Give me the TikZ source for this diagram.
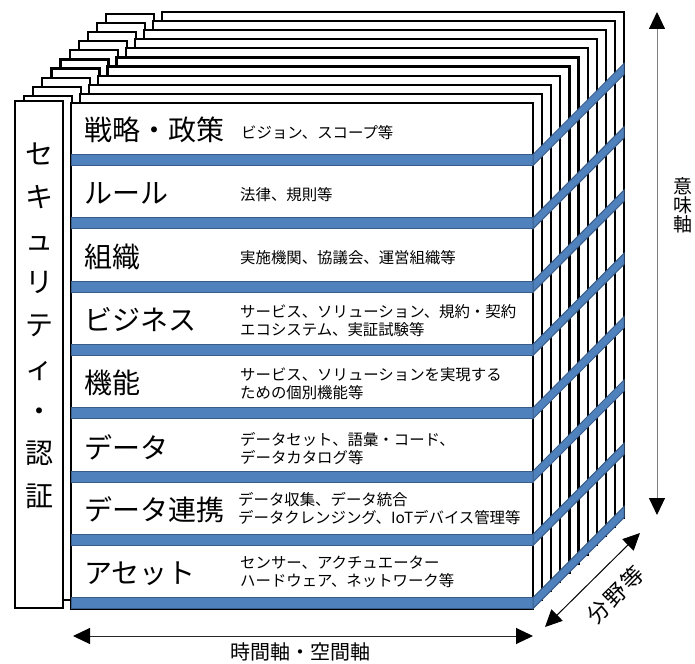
\documentclass[tikz,border=0pt]{standalone}
\usepackage{fontspec}
\setmainfont{Noto Sans CJK JP}
\usetikzlibrary{arrows.meta}
\definecolor{bandfill}{HTML}{4F81BD}
\definecolor{bandline}{HTML}{385D8A}
\definecolor{axisgray}{HTML}{7F7F7F}
\tikzset{
  frame/.style={draw=black, fill=white, line width=2.2pt},
  band/.style={fill=bandfill, draw=bandline, line width=1pt, line join=miter},
  bigl/.style={anchor=west, inner sep=0pt, font=\fontsize{28}{30}\selectfont},
  smalll/.style={anchor=west, inner sep=0pt, align=left, font=\fontsize{15.4}{18}\selectfont},
  axisarrow/.style={{Triangle[length=17pt,width=16pt,color=black]}-{Triangle[length=17pt,width=16pt,color=black]}, line width=1pt},
}
\begin{document}
\begin{tikzpicture}[x=1pt,y=-1pt]
\useasboundingbox (0,0) rectangle (695,663);
% back layers
\foreach \k in {10,9,...,1} {
  \begin{scope}[shift={(9.1*\k,-9.1*\k)}]
    \draw[frame] (15,105) rectangle (63,609);
    \draw[frame] (71,103) rectangle (533,609);
  \end{scope}
}
% front security box and main box
\draw[frame] (15,101) rectangle (63,608);
\draw[frame] (71,103) rectangle (533,609);
% blue shelves
\foreach \c in {160,223.3,286.6,349.9,413.2,476.5,539.8,603.1} {
  \draw[band] (71,\c-5.5) rectangle (533,\c+5.5);
  \draw[band] (533,\c-5.5) -- (624,\c-96.5) -- (624,\c-85.5) -- (533,\c+5.5) -- cycle;
}
% security text
\node[align=center, inner sep=0pt, font=\fontsize{28}{42.75}\selectfont] (sec) at (39,326) {セ\\キ\\ュ\\リ\\テ\\ィ\\・\\認\\証};
% rows
\node[bigl] (r1) at (84,130) {戦略・政策};
\node[smalll] (s1) at (241,133) {ビジョン、スコープ等};
\node[bigl] (r2) at (84,193) {ルール};
\node[smalll] (s2) at (240,195) {法律、規則等};
\node[bigl] (r3) at (84,257) {組織};
\node[smalll] (s3) at (240,258) {実施機関、協議会、運営組織等};
\node[bigl] (r4) at (84,320) {ビジネス};
\node[smalll] (s4) at (240,321) {サービス、ソリューション、規約・契約\\エコシステム、実証試験等};
\node[bigl] (r5) at (84,383) {機能};
\node[smalll] (s5) at (240,384) {サービス、ソリューションを実現する\\ための個別機能等};
\node[bigl] (r6) at (84,447) {データ};
\node[smalll] (s6) at (240,449) {データセット、語彙・コード、\\データカタログ等};
\node[bigl] (r7) at (84,510) {データ連携};
\node[smalll] (s7) at (238,509) {データ収集、データ統合\\データクレンジング、IoTデバイス管理等};
\node[bigl] (r8) at (84,574) {アセット};
\node[smalll] (s8) at (240,572) {センサー、アクチュエーター\\ハードウェア、ネットワーク等};
% axes
\coordinate (vtop) at (657,12);
\coordinate (vbot) at (657,515);
\draw[axisarrow, draw=axisgray] (vbot) -- (vtop);
\node[align=center, inner sep=0pt, font=\fontsize{19}{19}\selectfont] (ilab) at (683,205) {意\\味\\軸};
\coordinate (hl) at (73,636);
\coordinate (hr) at (533,636);
\draw[axisarrow, draw=black!85] (hl) -- (hr);
\node[font=\fontsize{20}{20}\selectfont, inner sep=0pt] (tlab) at (300,652) {時間軸・空間軸};
\coordinate (dl) at (545,627);
\coordinate (dr) at (640,533);
\draw[axisarrow, draw=black] (dl) -- (dr);
\node[rotate=45, font=\fontsize{22}{22}\selectfont, inner sep=0pt] (flab) at (615,595) {分\kern2pt 野\kern2pt 等};
\end{tikzpicture}
\end{document}
